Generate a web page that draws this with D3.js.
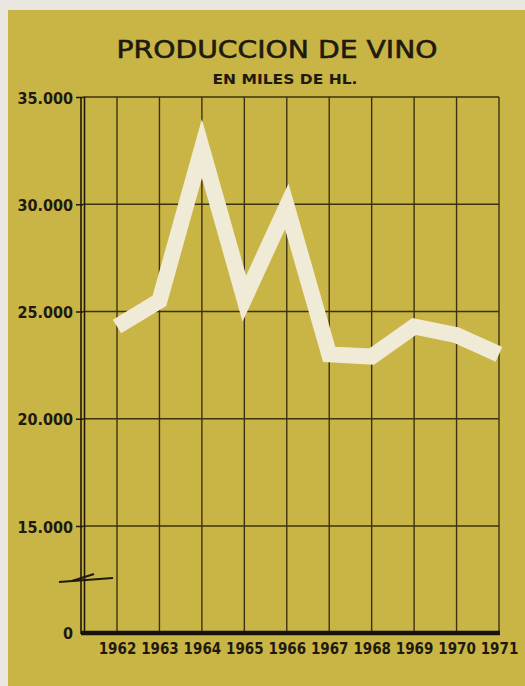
<!DOCTYPE html>
<html>
<head>
<meta charset="utf-8">
<script src="https://cdn.jsdelivr.net/npm/d3@7"></script>
<style>
html,body{margin:0;padding:0;background:#e9e6df;}
svg{display:block;}
</style>
</head>
<body>
<svg id="chart" width="525" height="686"></svg>
<script>
const years = ["1962","1963","1964","1965","1966","1967","1968","1969","1970","1971"];
const production = [24300, 25500, 32600, 25600, 29900, 23000, 22900, 24300, 23900, 23000];
const yTicks = [0, 15000, 20000, 25000, 30000, 35000];
const yTickLabels = ["0", "15.000", "20.000", "25.000", "30.000", "35.000"];
const title = "PRODUCCION DE VINO";
const subtitle = "EN MILES DE HL.";

const svg = d3.select("#chart");
const bg = "#c9b446";
const ink = "#3d3210";

svg.append("rect").attr("x", 8).attr("y", 10).attr("width", 517).attr("height", 676).attr("fill", bg);

const x = d3.scalePoint().domain(years).range([117, 499]);
const y = d3.scaleLinear().domain([0, 15000, 35000]).range([632, 526, 97]);

// title
svg.append("text").attr("x", 277).attr("y", 58)
  .attr("text-anchor", "middle")
  .attr("font-family", "DejaVu Sans")
  .attr("font-size", 25)
  .attr("textLength", 321).attr("lengthAdjust", "spacingAndGlyphs")
  .attr("fill", "#1e1a0e").attr("stroke", "#1e1a0e").attr("stroke-width", 0.6)
  .text(title);
svg.append("text").attr("x", 285).attr("y", 84)
  .attr("text-anchor", "middle")
  .attr("font-family", "DejaVu Sans")
  .attr("font-weight", "bold")
  .attr("font-size", 14)
  .attr("textLength", 145).attr("lengthAdjust", "spacingAndGlyphs")
  .attr("fill", "#1e1a0e").text(subtitle);

// horizontal grid
const g = svg.append("g");
g.selectAll("line.h").data(yTicks.filter(d => d >= 15000)).join("line")
  .attr("x1", 83).attr("x2", x("1971"))
  .attr("y1", d => y(d)).attr("y2", d => y(d))
  .attr("stroke", ink).attr("stroke-width", 1.4);
// vertical grid
g.selectAll("line.v").data(years).join("line")
  .attr("x1", d => x(d)).attr("x2", d => x(d))
  .attr("y1", y(35000)).attr("y2", y(0))
  .attr("stroke", ink).attr("stroke-width", 1.4);

// y axis ticks + labels
const yAxis = d3.axisLeft(y).tickValues(yTicks)
  .tickFormat((d, i) => yTickLabels[i]).tickSize(7).tickPadding(3);
const ya = svg.append("g").attr("transform", "translate(83,0)").call(yAxis);
ya.select(".domain").remove();
ya.selectAll(".tick line").attr("stroke", "#1e1a0e").attr("stroke-width", 1.5)
  .filter(d => d === 0).remove();
ya.selectAll(".tick text")
  .attr("font-family", "DejaVu Sans Condensed, DejaVu Sans")
  .attr("font-weight", "bold").attr("font-size", 16)
  .attr("fill", "#1e1a0e").attr("dy", "0.38em")
  .attr("x", -10);

// double left axis line
[81, 84.5].forEach(px => {
  svg.append("line").attr("x1", px).attr("x2", px)
    .attr("y1", y(35000)).attr("y2", y(0) + 2)
    .attr("stroke", "#1e1a0e").attr("stroke-width", 1.6);
});
// axis break marks
svg.append("line").attr("x1", 59).attr("y1", 582).attr("x2", 113).attr("y2", 578)
  .attr("stroke", "#1e1a0e").attr("stroke-width", 2);
svg.append("line").attr("x1", 72).attr("y1", 581).attr("x2", 94).attr("y2", 574)
  .attr("stroke", "#1e1a0e").attr("stroke-width", 2);

// x axis
const xAxis = d3.axisBottom(x).tickSize(0).tickPadding(11);
const xa = svg.append("g").attr("transform", `translate(0,${y(0)})`).call(xAxis);
xa.select(".domain").remove();
xa.selectAll(".tick text")
  .attr("font-family", "DejaVu Sans Condensed, DejaVu Sans")
  .attr("font-weight", "bold").attr("font-size", 15)
  .attr("fill", "#1e1a0e");
svg.append("line").attr("x1", 81).attr("x2", x("1971") + 1)
  .attr("y1", y(0) + 1).attr("y2", y(0) + 1)
  .attr("stroke", "#16130a").attr("stroke-width", 4.5);

// data band
const line = d3.line().x((d, i) => x(years[i])).y(d => y(d));
svg.append("path").datum(production)
  .attr("d", line)
  .attr("fill", "none")
  .attr("stroke", "#f0ebd6")
  .attr("stroke-width", 16)
  .attr("stroke-linejoin", "miter")
  .attr("stroke-miterlimit", 10)
  .attr("stroke-linecap", "butt");
</script>
</body>
</html>
